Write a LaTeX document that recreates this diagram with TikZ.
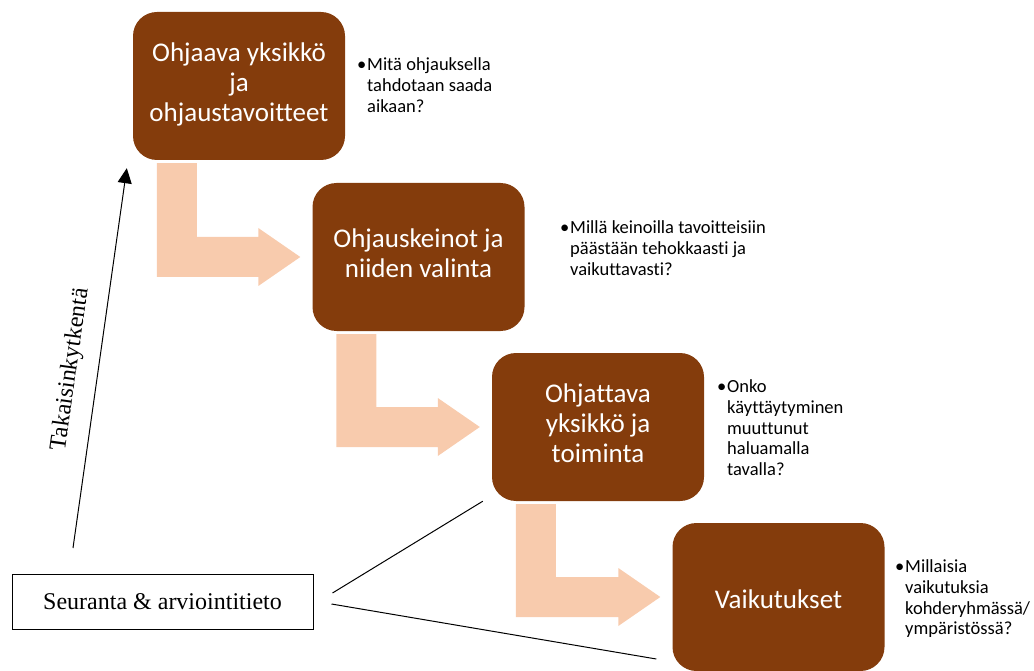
\documentclass[tikz,border=0pt]{standalone}
\usepackage{fontspec}
\setmainfont{Carlito}[Ligatures=NoCommon]
\newfontfamily\timesfont{Liberation Serif}
\usetikzlibrary{calc,arrows.meta}
\definecolor{boxbrown}{HTML}{843C0C}
\definecolor{flowpeach}{HTML}{F8CBAD}
\newcommand{\notelist}[1]{\begin{tabular}{@{}p{10pt}@{}l@{}}\textbullet & #1\end{tabular}}
\newcommand{\stagetop}{\rule[-7pt]{0pt}{36pt}}
\newcommand{\stagebot}{\rule[-7pt]{0pt}{30pt}}
\begin{document}
\begin{tikzpicture}[x=1pt,y=-1pt,
  stage/.style={fill=boxbrown, text=white, rounded corners=24pt, minimum width=212pt, minimum height=148pt, inner sep=0pt, align=center, font=\fontsize{27}{30}\selectfont, execute at begin node=\stagetop, execute at end node=\stagebot},
  note/.style={anchor=north west, inner sep=0pt, font=\fontsize{18.5}{20.7}\selectfont},
  flow/.style={fill=flowpeach},
  serifbox/.style={font=\timesfont\fontsize{24}{28}\selectfont}]
\useasboundingbox (0,0) rectangle (1034,671);
\node[stage] (b1) at (239,86) {Ohjaava yksikkö\\ja\\ohjaustavoitteet};
\node[stage] (b2) at (418.5,257) {Ohjauskeinot ja\\niiden valinta};
\node[stage] (b3) at (598,427) {Ohjattava\\yksikkö ja\\toiminta};
\node[stage] (b4) at (778.5,597) {Vaikutukset};
\foreach \a/\b in {b1/b2,b2/b3,b3/b4}
  \fill[flow] let \p1=(\a.south west), \p2=(\b.west) in
    (\x1+24pt,\y1-3pt) -- (\x1+64pt,\y1-3pt) -- (\x1+64pt,\y2+20pt) -- (\x2-54pt,\y2+20pt)
    -- (\x2-54pt,\y2+29pt) -- (\x2-12pt,\y2) -- (\x2-54pt,\y2-29pt) -- (\x2-54pt,\y2-20pt)
    -- (\x1+24pt,\y2-20pt) -- cycle;
\node[note] (n1) at (357,56) {\notelist{Mitä ohjauksella\\ & tahdotaan saada\\ & aikaan?}};
\node[note] (n2) at (560,219) {\notelist{Millä keinoilla tavoitteisiin\\ & päästään tehokkaasti ja\\ & vaikuttavasti?}};
\node[note] (n3) at (717,378) {\notelist{Onko\\ & käyttäytyminen\\ & muuttunut\\ & haluamalla\\ & tavalla?}};
\node[note] (n4) at (895,558) {\notelist{Millaisia\\ & vaikutuksia\\ & kohderyhmässä/\\ & ympäristössä?}};
\node[draw, line width=1pt, minimum width=301pt, minimum height=55pt, serifbox] (obs) at (162.5,601.5) {Seuranta \& arviointitieto};
\coordinate (fbfoot) at (73,548);
\coordinate (fbtip) at ($(b1.south west)+(-6,8)$);
\draw[line width=1pt, -{Triangle[length=15pt,width=14pt]}] (fbfoot) -- (fbtip)
  node[pos=0.46, sloped, above=16pt, inner sep=0pt, serifbox] (fblabel) {Takaisinkytkentä};
\coordinate (l1a) at ($(obs.east)+(19,-8.5)$);
\coordinate (l1b) at ($(b3.south west)+(-9,0)$);
\coordinate (l2a) at ($(obs.east)+(18,2.5)$);
\coordinate (l2b) at ($(b4.west)+(-16,62)$);
\draw[line width=1pt] (l1a) -- (l1b);
\draw[line width=1pt] (l2a) -- (l2b);
\end{tikzpicture}
\end{document}
